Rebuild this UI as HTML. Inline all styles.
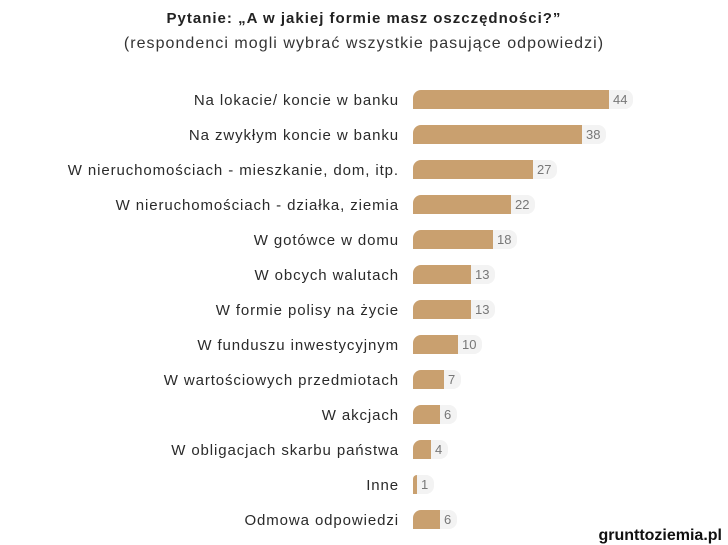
<!DOCTYPE html>
<html><head><meta charset="utf-8"><style>
body{margin:0;width:728px;height:545px;background:#fff;font-family:"Liberation Sans",sans-serif;position:relative;overflow:hidden}
.t{position:absolute;left:0;width:728px;text-align:center;color:#222}
.l{position:absolute;right:329px;font-size:15px;letter-spacing:0.9px;color:#2a2a2a;white-space:nowrap;line-height:19px;top:1px}
.b{position:absolute;left:413px;height:19px;background:#C9A06F;border-radius:8px 0 0 0}
.p{position:absolute;height:19px;background:#f3f3f3;border-radius:0 8px 8px 0;font-size:13px;color:#777;line-height:19px;padding:0 6px 0 4px}
</style></head><body>
<div class="t" style="top:10px;font-size:15px;font-weight:bold;letter-spacing:1px">Pytanie: „A w jakiej formie masz oszczędności?”</div>
<div class="t" style="top:35px;font-size:16px;color:#333;letter-spacing:1.05px">(respondenci mogli wybrać wszystkie pasujące odpowiedzi)</div>
<div id="c"></div>
<div style="position:absolute;right:6px;top:527px;font-size:16px;font-weight:bold;color:#111">grunttoziemia.pl</div>
<script>
var d=[["Na lokacie/ koncie w banku",44],["Na zwykłym koncie w banku",38],["W nieruchomościach - mieszkanie, dom, itp.",27],["W nieruchomościach - działka, ziemia",22],["W gotówce w domu",18],["W obcych walutach",13],["W formie polisy na życie",13],["W funduszu inwestycyjnym",10],["W wartościowych przedmiotach",7],["W akcjach",6],["W obligacjach skarbu państwa",4],["Inne",1],["Odmowa odpowiedzi",6]];
var h="";d.forEach(function(r,i){var y=90+35*i,w=Math.round(r[1]*4.46);
h+='<div class="l" style="top:'+(y+1)+'px">'+r[0]+'</div><div class="b" style="top:'+y+'px;width:'+w+'px"></div><div class="p" style="top:'+y+'px;left:'+(413+w)+'px">'+r[1]+'</div>';});
document.getElementById("c").innerHTML=h;
</script>
</body></html>
